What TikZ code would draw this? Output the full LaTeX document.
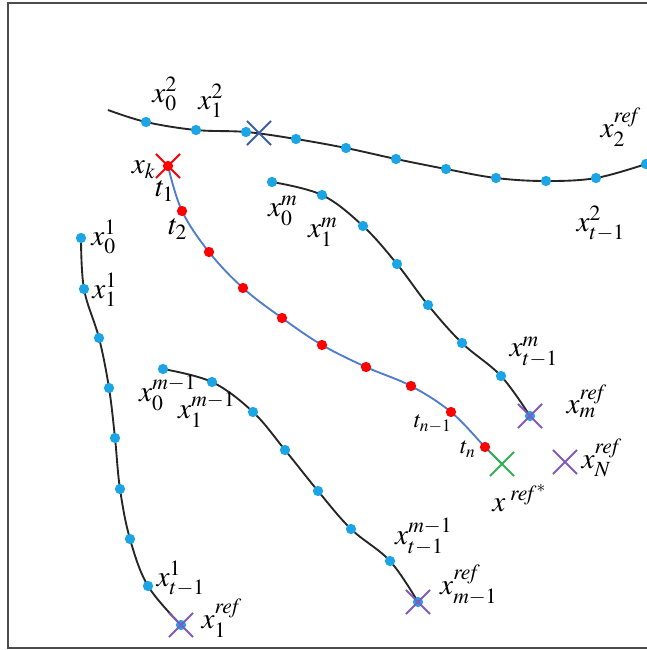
\documentclass[tikz,border=0pt]{standalone}
\usepackage{mathptmx}
\usetikzlibrary{shapes.misc}

\definecolor{dotblue}{RGB}{27,165,230}
\definecolor{lineblue}{RGB}{80,125,205}
\definecolor{xpurple}{RGB}{130,90,190}
\definecolor{xgreen}{RGB}{50,175,85}
\definecolor{xnavy}{RGB}{60,95,165}

\begin{document}
\begin{tikzpicture}[
  x=0.015cm, y=-0.015cm,
  font=\fontsize{12.5}{14}\selectfont,
  track/.style={line width=0.8pt, draw=black!85},
  route/.style={line width=0.8pt, draw=lineblue},
  cross/.style={cross out, draw, line width=0.8pt, minimum size=9.5pt, inner sep=0pt},
  lbl/.style={inner sep=0pt}
]
\useasboundingbox (0,0) rectangle (647,650);
\draw[line width=1.2pt, black!70] (647,3) -- (8,3) -- (8,648) -- (647,648);

% trajectory 2 (top)
\coordinate (c2-0) at (108,110);
\foreach \p [count=\i] in {{146,122},{196,130},{246,132},{296,139},{346,148},{396,159},{446,169},{496,178},{546,181},{596,178},{646,164}}
  \coordinate (c2-\i) at (\p);
\draw[track] plot[smooth, tension=0.6] coordinates {(c2-0) (c2-1) (c2-2) (c2-3) (c2-4) (c2-5) (c2-6) (c2-7) (c2-8) (c2-9) (c2-10) (c2-11)};
\foreach \i in {1,...,11}
  \fill[dotblue] (c2-\i) circle[radius=2.2pt];
\node[cross, draw=xnavy] (x2cut) at (259,133) {};

% trajectory 1 (left)
\foreach \p [count=\i] in {{81,238},{84,289},{99,338},{109,388},{115,438},{120,489},{130,539},{148,586}}
  \coordinate (c1-\i) at (\p);
\coordinate (r1) at (181,625);
\draw[track] plot[smooth, tension=0.6] coordinates {(c1-1) (c1-2) (c1-3) (c1-4) (c1-5) (c1-6) (c1-7) (c1-8) (r1)};
\foreach \i in {1,...,8}
  \fill[dotblue] (c1-\i) circle[radius=2.2pt];
\fill[dotblue] (r1) circle[radius=2.2pt];
\node[cross, draw=xpurple] (ref1) at (r1) {};

% trajectory m
\foreach \p [count=\i] in {{272,182},{322,195},{363,226},{397,264},{428,305},{462,343},{501,376}}
  \coordinate (cm-\i) at (\p);
\coordinate (rm) at (530,416);
\draw[track] plot[smooth, tension=0.6] coordinates {(cm-1) (cm-2) (cm-3) (cm-4) (cm-5) (cm-6) (cm-7) (rm)};
\foreach \i in {1,...,7}
  \fill[dotblue] (cm-\i) circle[radius=2.2pt];
\fill[dotblue] (rm) circle[radius=2.2pt];
\node[cross, draw=xpurple] (refm) at (rm) {};

% trajectory m-1
\foreach \p [count=\i] in {{163,369},{212,382},{253,412},{285,450},{318,491},{351,529},{390,561}}
  \coordinate (cp-\i) at (\p);
\coordinate (rp) at (418,602);
\draw[track] plot[smooth, tension=0.6] coordinates {(cp-1) (cp-2) (cp-3) (cp-4) (cp-5) (cp-6) (cp-7) (rp)};
\foreach \i in {1,...,7}
  \fill[dotblue] (cp-\i) circle[radius=2.2pt];
\fill[dotblue] (rp) circle[radius=2.2pt];
\node[cross, draw=xpurple] (refp) at (rp) {};

% generated route from x_k
\coordinate (xk) at (168,166);
\foreach \p [count=\i] in {{182,211},{209,252},{243,288},{282,318},{322,345},{366,367},{411,386},{451,412},{485,447}}
  \coordinate (t-\i) at (\p);
\coordinate (rs) at (502,464);
\draw[route] plot[smooth, tension=0.6] coordinates {(xk) (t-1) (t-2) (t-3) (t-4) (t-5) (t-6) (t-7) (t-8) (t-9) (rs)};
\foreach \i in {1,...,9}
  \fill[red] (t-\i) circle[radius=2.2pt];
\fill[red] (xk) circle[radius=2.2pt];
\node[cross, draw=red] (xkcross) at (xk) {};
\node[cross, draw=xgreen] (refstar) at (rs) {};
\node[cross, draw=xpurple] (refN) at (565,462) {};

% labels
\node[lbl] (l20) at (165,94) {$x_0^2$};
\node[lbl] (l21) at (211,101) {$x_1^2$};
\node[lbl] (l2r) at (621,127) {$x_2^{\mathit{ref}}$};
\node[lbl] (l2t) at (601,224) {$x_{t-1}^2$};
\node[lbl] (lxk) at (144,170) {$x_k$};
\node[lbl] (lt1) at (165,191) {$t_1$};
\node[lbl] (lt2) at (178,229) {$t_2$};
\node[lbl] (ltn1) at (433,424) {\fontsize{10}{11}\selectfont$t_{n-1}$};
\node[lbl] (ltn) at (468,449) {\fontsize{10}{11}\selectfont$t_n$};
\node[lbl] (lm0) at (283,211) {$x_0^m$};
\node[lbl] (lm1) at (323,232) {$x_1^m$};
\node[lbl] (lmt) at (534,352) {$x_{t-1}^m$};
\node[lbl] (lmr) at (587,401) {$x_m^{\mathit{ref}}$};
\node[lbl] (l10) at (104,237) {$x_0^1$};
\node[lbl] (l11) at (105,290) {$x_1^1$};
\node[lbl] (l1t) at (181,579) {$x_{t-1}^1$};
\node[lbl] (l1r) at (222,618) {$x_1^{\mathit{ref}}$};
\node[lbl] (lp0) at (168,393) {$x_0^{m-1}$};
\node[lbl] (lp1) at (207,410) {$x_1^{m-1}$};
\node[lbl] (lpt) at (424,537) {$x_{t-1}^{m-1}$};
\node[lbl] (lpr) at (469,585) {$x_{m-1}^{\mathit{ref}}$};
\node[lbl] (lNr) at (602,458) {$x_N^{\mathit{ref}}$};
\node[lbl] (lstar) at (520,498) {$x^{\;\mathit{ref}^{*}}$};
\end{tikzpicture}
\end{document}
